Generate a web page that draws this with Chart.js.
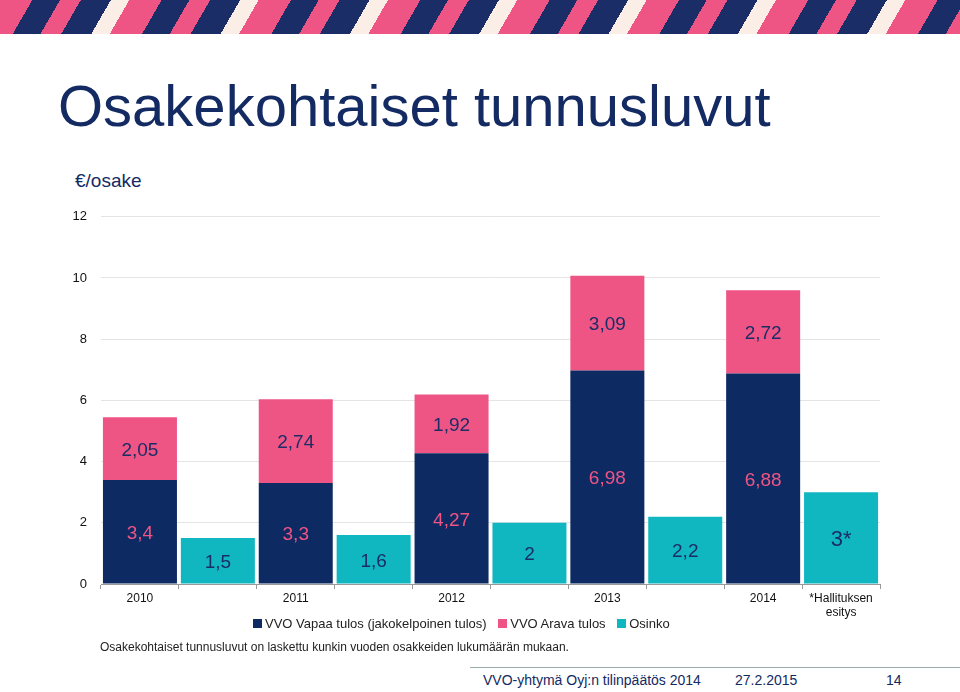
<!DOCTYPE html>
<html lang="fi">
<head>
<meta charset="UTF-8" />
<title>Osakekohtaiset tunnusluvut</title>
<style>
  body { margin: 0; width: 960px; height: 692px; background: #fff; font-family: "Liberation Sans", Arial, sans-serif; position: relative; overflow: hidden; }
  .band { position: absolute; left: 0; top: 0; width: 960px; height: 34px;
    background: repeating-linear-gradient(120deg, #ee5585 0 28px, #1b2d66 28px 52px, #ee5585 52px 70px, #1b2d66 70px 96px, #fbeee6 96px 112px); }
  h1 { position: absolute; left: 58px; top: 72px; margin: 0; font-weight: normal; font-size: 58px; color: #132a63; }
  .unit { position: absolute; left: 75px; top: 170px; font-size: 19px; color: #132a63; }
  #wrap { position: absolute; left: 0; top: 195px; width: 960px; height: 425px; }
  .legend { position: absolute; top: 616px; left: 253px; font-size: 13px; color: #222; white-space: nowrap; }
  .legend span.sw { display: inline-block; width: 9px; height: 9px; margin: 0 3px 0 0; vertical-align: 0; }
  .legend span.it { margin-right: 8px; }
  .note { position: absolute; left: 100px; top: 640px; font-size: 12px; color: #222; }
  .foot { position: absolute; top: 672px; font-size: 14px; color: #132a63; }
  .line { position: absolute; left: 470px; top: 667px; width: 490px; border-top: 1px solid #9aa; }
</style>
</head>
<body>
<div class="band"></div>
<h1>Osakekohtaiset tunnusluvut</h1>
<div class="unit">€/osake</div>
<div id="wrap"><canvas id="myChart" width="960" height="425"></canvas></div>
<div class="legend">
  <span class="sw" style="background:#0d2a63"></span><span class="it">VVO Vapaa tulos (jakokelpoinen tulos)</span>
  <span class="sw" style="background:#ee5585"></span><span class="it">VVO Arava tulos</span>
  <span class="sw" style="background:#10b6c0"></span><span class="it">Osinko</span>
</div>
<div class="note">Osakekohtaiset tunnusluvut on laskettu kunkin vuoden osakkeiden lukumäärän mukaan.</div>
<div class="line"></div>
<div class="foot" style="left:483px">VVO-yhtymä Oyj:n tilinpäätös 2014</div>
<div class="foot" style="left:735px">27.2.2015</div>
<div class="foot" style="left:886px">14</div>
<script src="https://cdn.jsdelivr.net/npm/chart.js"></script>
<script>
const categories = ['2010', '', '2011', '', '2012', '', '2013', '', '2014', ['*Hallituksen', 'esitys']];
const vapaa  = [3.4, null, 3.3, null, 4.27, null, 6.98, null, 6.88, null];
const arava  = [2.05, null, 2.74, null, 1.92, null, 3.09, null, 2.72, null];
const osinko = [null, 1.5, null, 1.6, null, 2, null, 2.2, null, 3];
const osinkoLabels = ['', '1,5', '', '1,6', '', '2', '', '2,2', '', '3*'];

const fmt = v => String(v).replace('.', ',');

// arvot palkkien keskelle
const valueLabels = {
  id: 'valueLabels',
  afterDatasetsDraw(chart) {
    const ctx = chart.ctx;
    ctx.save();
    ctx.textAlign = 'center';
    ctx.textBaseline = 'middle';
    chart.data.datasets.forEach((ds, di) => {
      chart.getDatasetMeta(di).data.forEach((bar, i) => {
        const v = ds.data[i];
        if (v == null) return;
        const y = (bar.y + bar.base) / 2;
        let txt = di === 2 ? osinkoLabels[i] : fmt(v);
        ctx.fillStyle = di === 0 ? '#ee5585' : '#1b2d66';
        ctx.font = (txt === '3*' ? '22px' : '19px') + ' "Liberation Sans", Arial, sans-serif';
        ctx.fillText(txt, bar.x, y + 2);
      });
    });
    ctx.restore();
  }
};

new Chart(document.getElementById('myChart'), {
  type: 'bar',
  data: {
    labels: categories,
    datasets: [
      { label: 'VVO Vapaa tulos (jakokelpoinen tulos)', data: vapaa, backgroundColor: '#0d2a63', stack: 's' },
      { label: 'VVO Arava tulos', data: arava, backgroundColor: '#ee5585', stack: 's' },
      { label: 'Osinko', data: osinko, backgroundColor: '#10b6c0', stack: 's' }
    ]
  },
  options: {
    responsive: false,
    animation: false,
    skipNull: true,
    datasets: { bar: { barPercentage: 0.95, categoryPercentage: 1 } },
    layout: { padding: { top: 7, right: 80, left: 0, bottom: 0 } },
    plugins: { legend: { display: false }, tooltip: { enabled: false } },
    scales: {
      x: {
        stacked: true,
        afterFit: s => { s.height = 36; },
        grid: { offset: true, drawOnChartArea: false, tickLength: 5, color: '#999' },
        border: { color: '#999' },
        ticks: { color: '#111', font: { size: 12, family: '"Liberation Sans", Arial' }, maxRotation: 0, autoSkip: false, padding: 2 }
      },
      y: {
        stacked: true,
        min: 0, max: 12,
        afterFit: s => { s.width = 101; },
        grid: { color: '#e4e4e4', drawTicks: false },
        border: { display: false },
        ticks: { stepSize: 2, color: '#111', padding: 14, font: { size: 13, family: '"Liberation Sans", Arial' } }
      }
    }
  },
  plugins: [valueLabels]
});
</script>
</body>
</html>
